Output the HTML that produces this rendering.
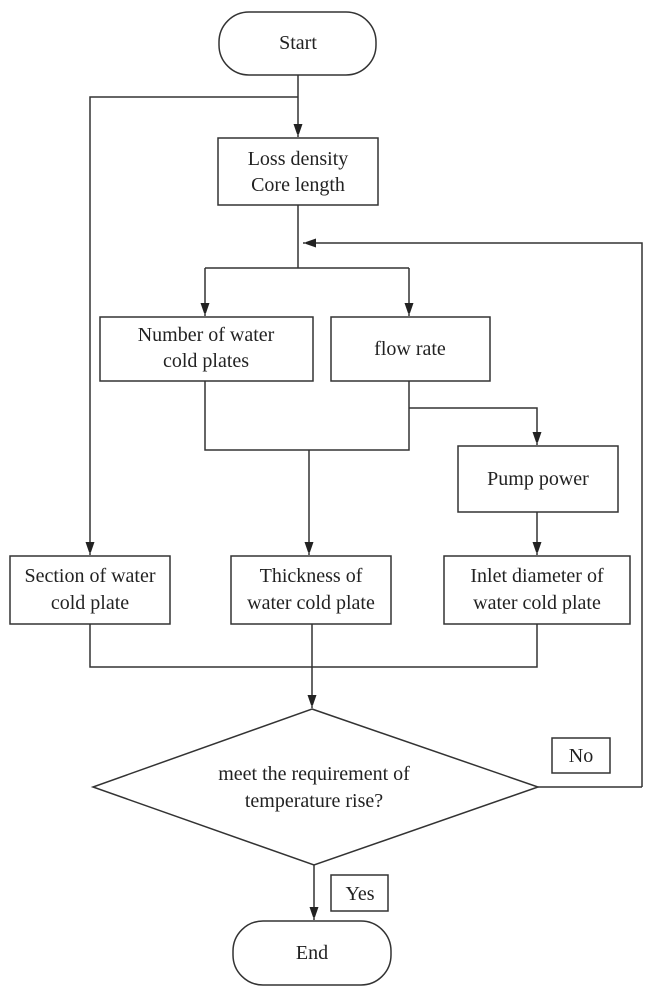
<!DOCTYPE html>
<html><head><style>body{margin:0;background:#fff}svg{display:block}text{font-family:"Liberation Serif",serif;font-size:20px;fill:#222;text-anchor:middle}</style></head><body>
<svg width="652" height="992" viewBox="0 0 652 992">
<defs><marker id="a" markerWidth="10" markerHeight="16" refX="13" refY="4.5" orient="auto" markerUnits="userSpaceOnUse"><path d="M0,0 L13,4.5 L0,9 z" fill="#222"/></marker></defs>
<g fill="none" stroke="#333" stroke-width="1.5">
<rect x="219" y="12" width="157" height="63" rx="30"/>
<rect x="218" y="138" width="160" height="67"/>
<rect x="100" y="317" width="213" height="64"/>
<rect x="331" y="317" width="159" height="64"/>
<rect x="458" y="446" width="160" height="66"/>
<rect x="10" y="556" width="160" height="68"/>
<rect x="231" y="556" width="160" height="68"/>
<rect x="444" y="556" width="186" height="68"/>
<polygon points="312,709 538,787 314,865 93,787"/>
<rect x="552" y="738" width="58" height="35"/>
<rect x="331" y="875" width="57" height="36"/>
<rect x="233" y="921" width="158" height="64" rx="30"/>
<path d="M298,75 V137" marker-end="url(#a)"/>
<path d="M298,97 H90 V555" marker-end="url(#a)"/>
<path d="M298,205 V268 M205,268 H409"/>
<path d="M205,268 V316" marker-end="url(#a)"/>
<path d="M409,268 V316" marker-end="url(#a)"/>
<path d="M642,787 V243 H303" marker-end="url(#a)"/>
<path d="M538,787 H642"/>
<path d="M205,381 V450 H409 V381"/>
<path d="M309,450 V555" marker-end="url(#a)"/>
<path d="M409,408 H537 V445" marker-end="url(#a)"/>
<path d="M537,512 V555" marker-end="url(#a)"/>
<path d="M90,624 V667 H537 V624"/>
<path d="M312,624 V708" marker-end="url(#a)"/>
<path d="M314,865 V920" marker-end="url(#a)"/>
</g>
<text x="298" y="49">Start</text>
<text x="298" y="165">Loss density</text>
<text x="298" y="191">Core length</text>
<text x="206" y="341">Number of water</text>
<text x="206" y="367">cold plates</text>
<text x="410" y="355">flow rate</text>
<text x="538" y="485">Pump power</text>
<text x="90" y="582">Section of water</text>
<text x="90" y="609">cold plate</text>
<text x="311" y="582">Thickness of</text>
<text x="311" y="609">water cold plate</text>
<text x="537" y="582">Inlet diameter of</text>
<text x="537" y="609">water cold plate</text>
<text x="314" y="780">meet the requirement of</text>
<text x="314" y="807">temperature rise?</text>
<text x="581" y="762">No</text>
<text x="360" y="900">Yes</text>
<text x="312" y="959">End</text>
</svg></body></html>
